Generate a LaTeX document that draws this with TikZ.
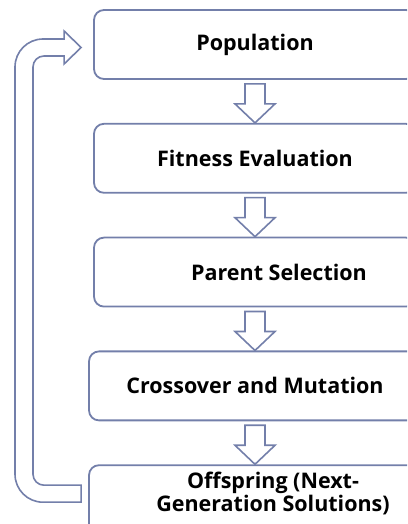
\documentclass[tikz,border=0pt]{standalone}
\usepackage{fontspec}
\setmainfont{Open Sans}
\usetikzlibrary{positioning,calc}

\definecolor{slate}{RGB}{115,127,170}

\begin{document}
\begin{tikzpicture}[
  x=1pt, y=1pt,
  box/.style={rectangle, rounded corners=10pt, draw=slate, line width=1.8pt, fill=white,
    minimum width=322pt, minimum height=69pt, align=center,
    font=\fontsize{21.5}{23}\selectfont\bfseries},
  flow/.style={draw=slate, line width=1.6pt, fill=white, line join=miter},
  node distance=43pt
]
\useasboundingbox (0,0) rectangle (407,524);
\clip (0,0) rectangle (407,524);

% the five stages of the loop
\node[box] (pop) at (255,479.5) {Population};
\node[box, below=of pop] (fit) {Fitness Evaluation};
\node[box, below=of fit] (par) {\hspace*{48pt}Parent Selection};
\node[box, minimum width=332pt, below=of par] (cro) {Crossover and Mutation};
\node[box, minimum width=332pt, text depth=15pt, below=of cro] (off)
  {\hspace*{36pt}Offspring (Next-\\\hspace*{36pt}Generation Solutions)};

% hollow arrows between the stages
\foreach \a/\b in {pop/fit, fit/par, par/cro, cro/off}
  \draw[flow] ($(\a.south)+(-10,-4)$) -- ($(\b.north)+(-10,19)$)
    -- ($(\b.north)+(-20,19)$) -- (\b.north) -- ($(\b.north)+(20,19)$)
    -- ($(\b.north)+(10,19)$) -- ($(\a.south)+(10,-4)$) -- cycle;

% feedback arrow from the offspring back to the population
\coordinate (loopend) at ($(off.west)+(-7,6)$);
\coordinate (looptip) at ($(pop.west)+(-12,-3)$);
\draw[flow] let \p1=(looptip), \p2=(loopend) in
  (\x2,\y2-8.5) -- (43,\y2-8.5) arc[start angle=270, end angle=180, radius=28]
  -- (15,\y1+8.5-28) arc[start angle=180, end angle=90, radius=28]
  -- (\x1-17,\y1+8.5) -- (\x1-17,\y1+16.5) -- (\x1,\y1)
  -- (\x1-17,\y1-16.5) -- (\x1-17,\y1-8.5)
  -- (44,\y1-8.5) arc[start angle=90, end angle=180, radius=11]
  -- (33,\y2+8.5+11) arc[start angle=180, end angle=270, radius=11]
  -- (\x2,\y2+8.5) -- cycle;
\end{tikzpicture}
\end{document}
